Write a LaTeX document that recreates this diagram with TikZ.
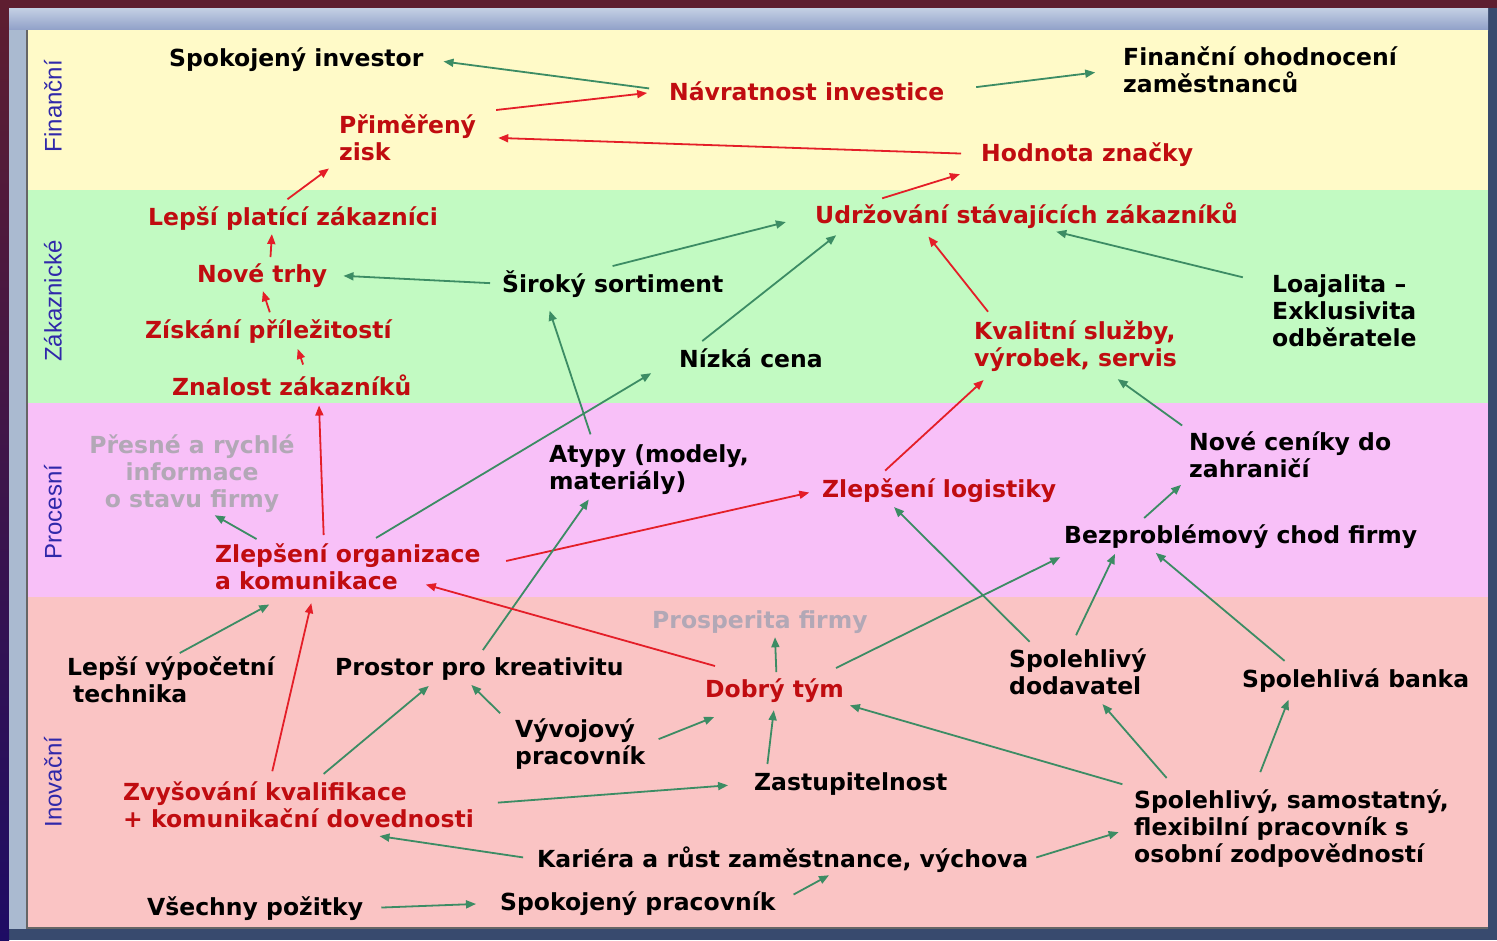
\documentclass[tikz,border=0pt]{standalone}
\usepackage{fontspec}
\setmainfont{DejaVu Sans}
\newfontfamily\lanefont{Liberation Sans}
\usetikzlibrary{arrows.meta}

\definecolor{framemaroon}{RGB}{94,30,48}
\definecolor{frameindigo}{RGB}{30,12,100}
\definecolor{frameslate}{RGB}{56,74,110}
\definecolor{framelight}{RGB}{196,208,228}
\definecolor{framemid}{RGB}{144,160,200}
\definecolor{frameside}{RGB}{170,186,208}
\definecolor{finyellow}{RGB}{255,250,200}
\definecolor{zakgreen}{RGB}{194,250,194}
\definecolor{procpink}{RGB}{248,192,248}
\definecolor{inovsalmon}{RGB}{250,196,196}
\definecolor{labelred}{RGB}{192,12,16}
\definecolor{labelgrey}{RGB}{178,168,182}
\definecolor{laneblue}{RGB}{48,40,170}
\definecolor{arrgreen}{RGB}{60,140,100}
\definecolor{arrred}{RGB}{228,30,40}

\tikzset{
  txt/.style={font=\fontsize{23.5}{27}\selectfont\bfseries, align=left, inner sep=2pt, anchor=base west},
  redtxt/.style={txt, text=labelred},
  blktxt/.style={txt, text=black},
  greytxt/.style={txt, text=labelgrey},
  lane/.style={rotate=90, font=\lanefont\fontsize{24}{28}\selectfont, text=laneblue},
  garr/.style={draw=arrgreen, line width=1.8pt, -{Triangle[length=10pt, width=8pt]}},
  rarr/.style={draw=arrred, line width=1.8pt, -{Triangle[length=10pt, width=8pt]}}
}

\begin{document}
\begin{tikzpicture}[x=1pt, y=-1pt]
    \useasboundingbox (0,0) rectangle (1497,940);

    % window frame
    \fill[framemaroon] (0,0) rectangle (1497,940);
    \fill[frameslate] (1488,8) rectangle (1497,940);
    \fill[frameslate] (0,929) rectangle (1497,940);
    \shade[top color=framemaroon, bottom color=frameindigo] (0,0) rectangle (9,940);
    \shade[top color=framelight, bottom color=framemid] (9,8) rectangle (1488,30);
    \fill[frameside] (9,30) rectangle (26,929);

    % bands
    \fill[finyellow] (26,30) rectangle (1488,190);
    \fill[zakgreen] (26,190) rectangle (1488,403);
    \fill[procpink] (26,403) rectangle (1488,597);
    \fill[inovsalmon] (26,597) rectangle (1488,928);
    \draw[black!60, line width=2pt] (27,30) -- (27,928) -- (1488,928);

    % lane names
    \node[lane] (lfin) at (53,106) {Finanční};
    \node[lane] (lzak) at (53,301) {Zákaznické};
    \node[lane] (lproc) at (53,512) {Procesní};
    \node[lane] (linov) at (53,782) {Inovační};

    % Finanční (multi-line nodes sit on their last baseline)
    \node[blktxt] (inv) at (167,66) {Spokojený investor};
    \node[redtxt] (navr) at (667,100) {Návratnost investice};
    \node[blktxt] (finhod) at (1121,92) {Finanční ohodnocení\\zaměstnanců};
    \node[redtxt] (zisk) at (337,160) {Přiměřený\\zisk};
    \node[redtxt] (hodn) at (979,161) {Hodnota značky};

    % Zákaznické
    \node[redtxt] (lepsi) at (146,225) {Lepší platící zákazníci};
    \node[redtxt] (udrz) at (813,223) {Udržování stávajících zákazníků};
    \node[redtxt] (nove) at (195,282) {Nové trhy};
    \node[blktxt] (sort) at (500,292) {Široký sortiment};
    \node[blktxt] (loaj) at (1270,346) {Loajalita –\\Exklusivita\\odběratele};
    \node[redtxt] (ziskani) at (143,338) {Získání příležitostí};
    \node[blktxt] (nizka) at (677,367) {Nízká cena};
    \node[redtxt] (kval) at (972,366) {Kvalitní služby,\\výrobek, servis};
    \node[redtxt] (znalost) at (170,395) {Znalost zákazníků};

    % Procesní
    \node[greytxt, align=center, anchor=base] (presne) at (192,507) {Přesné a rychlé\\informace\\o stavu firmy};
    \node[blktxt] (atypy) at (547,489) {Atypy (modely,\\materiály)};
    \node[blktxt] (cenik) at (1187,477) {Nové ceníky do\\zahraničí};
    \node[redtxt] (logist) at (820,497) {Zlepšení logistiky};
    \node[blktxt] (bezpr) at (1062,543) {Bezproblémový chod firmy};
    \node[redtxt] (org) at (213,589) {Zlepšení organizace\\a komunikace};

    % Inovační
    \node[greytxt] (prosp) at (650,628) {Prosperita firmy};
    \node[blktxt] (lvt) at (65,702) {Lepší výpočetní\\\hspace*{6pt}technika};
    \node[blktxt] (prostor) at (333,675) {Prostor pro kreativitu};
    \node[blktxt] (spoldod) at (1007,694) {Spolehlivý\\dodavatel};
    \node[redtxt] (dobry) at (703,697) {Dobrý tým};
    \node[blktxt] (banka) at (1240,687) {Spolehlivá banka};
    \node[blktxt] (vyvoj) at (513,764) {Vývojový\\pracovník};
    \node[blktxt] (zast) at (752,790) {Zastupitelnost};
    \node[redtxt] (zvys) at (121,827) {Zvyšování kvalifikace\\+ komunikační dovednosti};
    \node[blktxt] (spolpr) at (1132,862) {Spolehlivý, samostatný,\\flexibilní pracovník s\\osobní zodpovědností};
    \node[blktxt] (kariera) at (535,867) {Kariéra a růst zaměstnance, výchova};
    \node[blktxt] (vsechny) at (145,915) {Všechny požitky};
    \node[blktxt] (spokpr) at (498,910) {Spokojený pracovník};

    % arrows: finanční
    \draw[garr, shorten <=18pt, shorten >=18pt] (navr.west) -- (inv.east);
    \draw[garr, shorten <=30pt, shorten >=26pt] (navr.east) -- (finhod.west);
    \draw[rarr, shorten <=18pt, shorten >=20pt] (zisk.north east) -- (navr.west);
    \draw[rarr, shorten <=18pt, shorten >=20pt] (hodn.west) -- (zisk.east);
    \draw[rarr, shorten <=6pt, shorten >=20pt] ([xshift=-150pt]udrz.north) -- (hodn.south west);

    % arrows: zákaznické
    \draw[rarr, shorten <=8pt, shorten >=10pt] ([xshift=-12pt]lepsi.north) -- (zisk.south west);
    \draw[rarr, shorten <=4pt, shorten >=2pt] ([xshift=8pt]nove.north) -- ([xshift=-21pt]lepsi.south);
    \draw[rarr, shorten <=5pt, shorten >=2pt] ([xshift=3pt]ziskani.north) -- (nove.south);
    \draw[rarr, shorten <=8pt, shorten >=4pt] ([xshift=14pt]znalost.north) -- ([xshift=28pt]ziskani.south);
    \draw[garr, shorten <=8pt, shorten >=28pt] ([xshift=-8pt]sort.north) -- (udrz.west);
    \draw[garr, shorten <=10pt, shorten >=14pt] (sort.west) -- (nove.east);
    \draw[garr, shorten <=8pt, shorten >=8pt] ([xshift=-55pt]nizka.north) -- ([xshift=-184pt]udrz.south);
    \draw[garr, shorten <=28pt, shorten >=6pt] ([yshift=-12pt]loaj.north west) -- ([xshift=24pt]udrz.south);
    \draw[rarr, shorten <=8pt, shorten >=8pt] ([xshift=21pt]kval.north west) -- ([xshift=-103pt]udrz.south);

    % arrows: procesní
    \draw[rarr, shorten <=6pt, shorten >=8pt] ([xshift=-24pt]org.north) -- ([xshift=27pt]znalost.south);
    \draw[garr, shorten <=4pt, shorten >=2pt] ([xshift=47pt]org.north west) -- ([xshift=21pt]presne.south);
    \draw[garr, shorten <=6pt, shorten >=30pt] ([xshift=23pt]org.north) -- (nizka.west);
    \draw[garr, shorten <=8pt, shorten >=12pt] ([xshift=-56pt]atypy.north) -- ([xshift=-67pt]sort.south);
    \draw[rarr, shorten <=24pt, shorten >=11pt] (org.east) -- (logist.west);
    \draw[rarr, shorten <=8pt, shorten >=10pt] ([xshift=-60pt]logist.north) -- ([xshift=19pt]kval.south west);
    \draw[garr, shorten <=6pt, shorten >=10pt] (cenik.north west) -- ([xshift=34pt]kval.south);
    \draw[garr, shorten <=6pt, shorten >=8pt] ([xshift=-101pt]bezpr.north) -- (cenik.south west);

    % arrows: inovační
    \draw[garr, shorten <=2pt, shorten >=2pt] ([xshift=7pt]lvt.north) -- ([xshift=58pt, yshift=-12pt]org.south west);
    \draw[rarr, shorten <=8pt, shorten >=12pt] ([xshift=-28pt]zvys.north) -- ([xshift=101pt]org.south west);
    \draw[garr, shorten <=8pt, shorten >=6pt] ([xshift=19pt]zvys.north) -- ([xshift=-46pt]prostor.south);
    \draw[garr, shorten <=6pt, shorten >=4pt] (prostor.north) -- ([xshift=-58pt]atypy.south);
    \draw[garr, shorten <=4pt, shorten >=4pt] ([xshift=-10pt]vyvoj.north west) -- ([xshift=-11pt]prostor.south);
    \draw[garr, shorten <=12pt, shorten >=2pt] (vyvoj.east) -- ([xshift=13pt, yshift=-12pt]dobry.south west);
    \draw[garr, shorten <=6pt, shorten >=6pt] ([xshift=-84pt]zast.north) -- (dobry.south);
    \draw[garr, shorten <=4pt, shorten >=2pt] ([xshift=2pt]dobry.north) -- ([xshift=15pt]prosp.south);
    \draw[rarr] ([xshift=12pt, yshift=10pt]dobry.north west) -- ([xshift=-57pt, yshift=7pt]org.south east);
    \draw[garr, shorten >=2pt] ([xshift=-10pt, yshift=8pt]dobry.north east) -- ([yshift=-6pt]bezpr.south west);
    \draw[garr, shorten <=6pt, shorten >=4pt] ([xshift=-44pt]spoldod.north) -- ([xshift=-48pt]logist.south);
    \draw[garr, shorten <=12pt, shorten >=4pt] ([xshift=-7pt]spoldod.north) -- ([xshift=-124pt]bezpr.south);
    \draw[garr, shorten <=8pt, shorten >=4pt] ([xshift=-65pt]banka.north) -- ([xshift=-88pt]bezpr.south);
    \draw[garr, shorten <=10pt, shorten >=4pt] (spolpr.north west) -- (dobry.south east);
    \draw[garr, shorten <=12pt, shorten >=10pt] ([xshift=-117pt]spolpr.north) -- ([xshift=18pt]spoldod.south);
    \draw[garr, shorten <=16pt, shorten >=6pt] ([xshift=-37pt]spolpr.north) -- ([xshift=-65pt]banka.south);
    \draw[garr, shorten <=22pt, shorten >=24pt] (zvys.east) -- (zast.west);
    \draw[garr, shorten <=12pt, shorten >=4pt] (kariera.west) -- ([xshift=77pt, yshift=-6pt]zvys.south);
    \draw[garr, shorten <=6pt, shorten >=14pt] (kariera.east) -- (spolpr.west);
    \draw[garr, shorten <=16pt, shorten >=22pt] (vsechny.east) -- (spokpr.west);
    \draw[garr, shorten <=18pt, shorten >=2pt] (spokpr.east) -- ([xshift=48pt]kariera.south);
\end{tikzpicture}
\end{document}
